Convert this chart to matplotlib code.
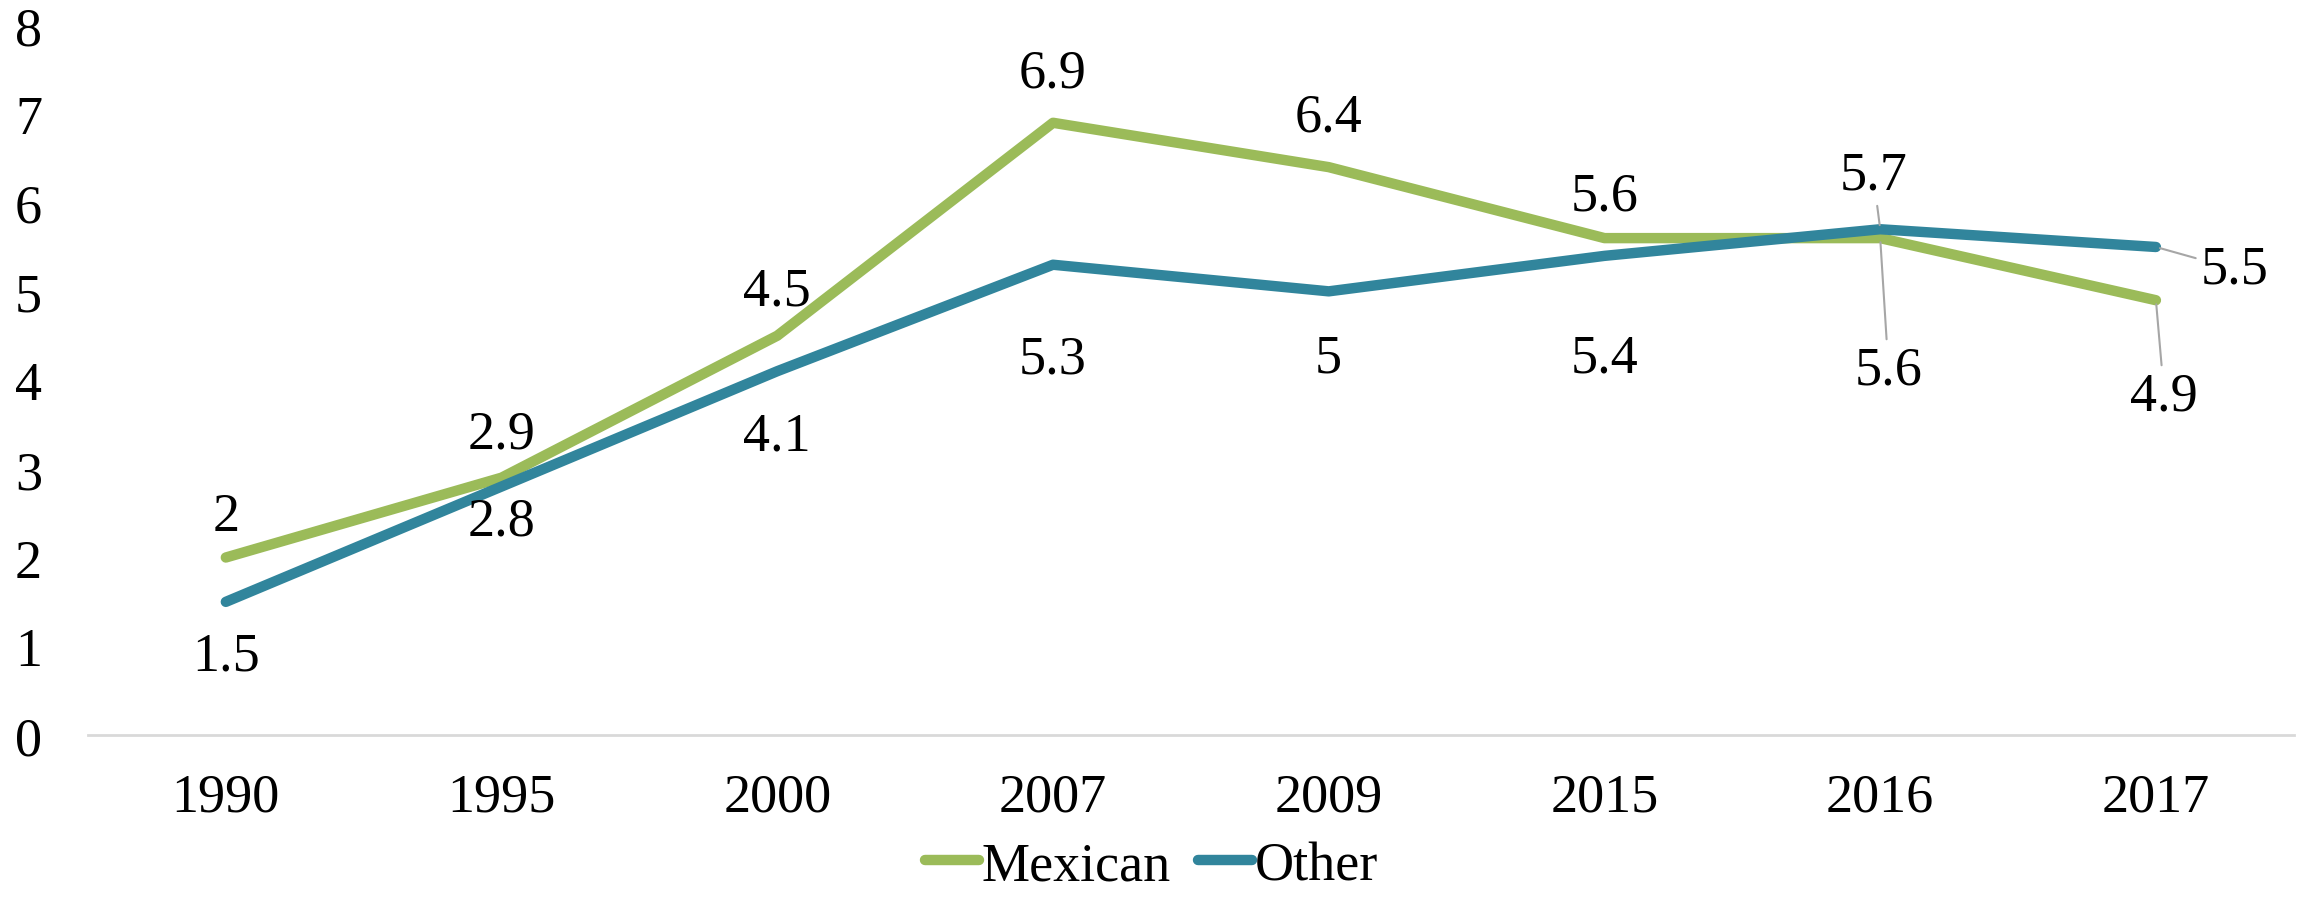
import matplotlib.pyplot as plt

plt.rcParams['font.family'] = ['Liberation Serif', 'DejaVu Serif']

years = ["1990", "1995", "2000", "2007", "2009", "2015", "2016", "2017"]
mexican = [2, 2.9, 4.5, 6.9, 6.4, 5.6, 5.6, 4.9]
other = [1.5, 2.8, 4.1, 5.3, 5.0, 5.4, 5.7, 5.5]
yticks = [0, 1, 2, 3, 4, 5, 6, 7, 8]

green = "#9BBB59"
blue = "#31859C"


def fmt(v):
    return ("%g" % v)


def main():
    fig = plt.figure(figsize=(23.03, 9.03), dpi=100)
    ax = fig.add_axes([0.0382, 0.185, 0.9578, 0.786])

    x = list(range(len(years)))
    ax.plot(x, mexican, color=green, lw=7.5, solid_capstyle="round",
            solid_joinstyle="round", label="Mexican", zorder=3)
    ax.plot(x, other, color=blue, lw=7.5, solid_capstyle="round",
            solid_joinstyle="round", label="Other", zorder=4)

    # label offsets in points (dx, dy) -- Excel placed them a bit irregularly
    mex_off = [(0, 29), (0, 31), (0, 32), (0, 36), (0, 36), (0, 30), (6, -95), (6, -69)]
    oth_off = [(0, -39), (0, -25), (0, -47), (0, -68), (0, -48), (0, -74), (-5, 39), (57, -16)]
    mex_lead = [False] * 6 + [True, True]
    oth_lead = [False] * 6 + [True, True]

    for series, offs, leads in ((mexican, mex_off, mex_lead), (other, oth_off, oth_lead)):
        for i, v in enumerate(series):
            dx, dy = offs[i]
            kw = {}
            if leads[i]:
                kw["arrowprops"] = dict(arrowstyle="-", color="#A6A6A6", lw=1.5,
                                        shrinkA=2, shrinkB=3)
            ax.annotate(fmt(v), (i, v), xytext=(dx, dy), textcoords="offset points",
                        ha="center", va="center", fontsize=39, color="black",
                        zorder=5, **kw)

    ax.set_xlim(-0.5, len(years) - 0.5)
    ax.set_ylim(0, 8)
    ax.set_xticks(x)
    ax.set_xticklabels(years)
    ax.set_yticks(yticks)
    ax.tick_params(axis="both", length=0, labelsize=39)
    ax.tick_params(axis="x", pad=27)
    ax.tick_params(axis="y", pad=33)
    for side in ("top", "right", "left"):
        ax.spines[side].set_visible(False)
    ax.spines["bottom"].set_color("#D9D9D9")
    ax.spines["bottom"].set_linewidth(2)

    # legend sits at the very bottom; keep it just inside the image
    handles, labels = ax.get_legend_handles_labels()
    fig.legend(handles, labels, loc="lower center", bbox_to_anchor=(0.5, -0.012),
               ncol=2, frameon=False, fontsize=39, handlelength=1.0,
               handletextpad=0.05, columnspacing=0.5, borderaxespad=0.0)

    fig.savefig("out.png", dpi=100)


if __name__ == "__main__":
    main()
